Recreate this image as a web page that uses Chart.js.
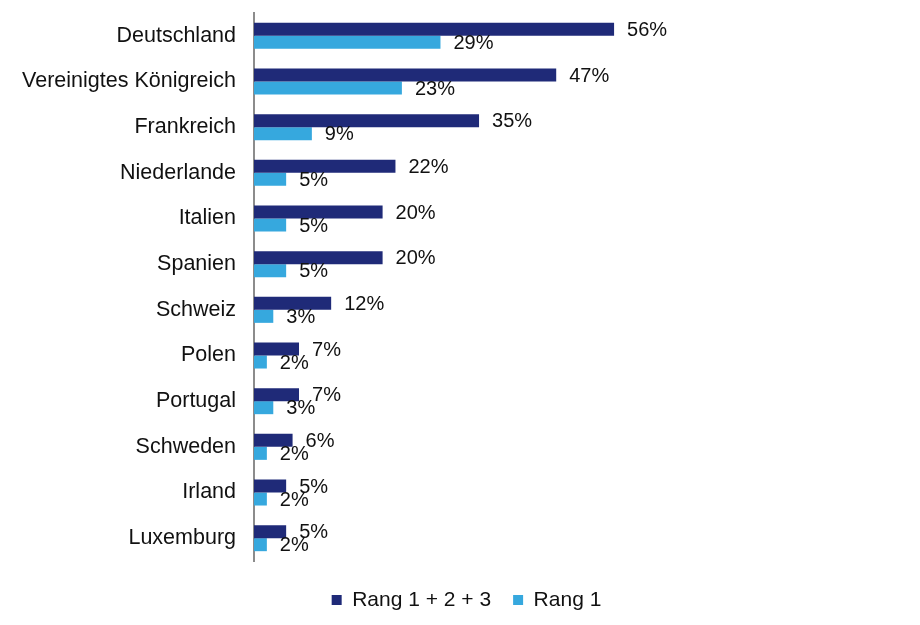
<!DOCTYPE html>
<html>
<head>
<meta charset="utf-8">
<script src="https://cdn.jsdelivr.net/npm/chart.js@4.4.1/dist/chart.umd.min.js"></script>
<style>
html,body{margin:0;padding:0;background:#fff;}
#wrap{position:relative;width:920px;height:625px;}
</style>
</head>
<body>
<div id="wrap"><canvas id="c"></canvas></div>
<script>
const categories = ["Deutschland","Vereinigtes Königreich","Frankreich","Niederlande","Italien","Spanien","Schweiz","Polen","Portugal","Schweden","Irland","Luxemburg"];
const rang123 = [56,47,35,22,20,20,12,7,7,6,5,5];
const rang1 = [29,23,9,5,5,5,3,2,3,2,2,2];
const seriesNames = ["Rang 1 + 2 + 3","Rang 1"];

const FONT = "'Liberation Sans', Arial, sans-serif";

const labelPlugin = {
  id: 'barLabels',
  afterDatasetsDraw(chart) {
    const ctx = chart.ctx;
    ctx.save();
    ctx.font = "20px " + FONT;
    ctx.fillStyle = "#111";
    ctx.textAlign = "left";
    ctx.textBaseline = "middle";
    chart.data.datasets.forEach((ds, di) => {
      const meta = chart.getDatasetMeta(di);
      meta.data.forEach((el, i) => {
        ctx.fillText(ds.data[i] + "%", el.x + 13, el.y + 1);
      });
    });
    ctx.restore();
  }
};

const legendFitPlugin = {
  id: 'legendFit',
  beforeInit(chart) {
    const lg = chart.legend;
    if (!lg) return;
    const origFit = lg.fit;
    lg.fit = function() {
      origFit.call(this);
      this.height = 64;
    };
    const origDraw = lg.draw;
    lg.draw = function() {
      const ctx = this.ctx;
      ctx.save();
      ctx.translate(18, 6.5);
      origDraw.apply(this, arguments);
      ctx.restore();
    };
  }
};

new Chart(document.getElementById('c'), {
  type: 'bar',
  data: {
    labels: categories,
    datasets: [
      {label: seriesNames[0], data: rang123, backgroundColor: '#1f2a78', borderWidth: 0},
      {label: seriesNames[1], data: rang1, backgroundColor: '#36a8de', borderWidth: 0}
    ]
  },
  options: {
    indexAxis: 'y',
    responsive: true,
    maintainAspectRatio: false,
    animation: false,
    layout: {padding: {top: 13, right: 23, bottom: 0, left: 0}},
    datasets: {bar: {categoryPercentage: 0.57, barPercentage: 1.0}},
    scales: {
      x: {display: false, min: 0, max: 100},
      y: {
        grid: {display: false, drawTicks: false},
        border: {display: true, color: '#8c8c8c', width: 2},
        ticks: {color: '#111', font: {family: FONT, size: 21.5}, padding: 18},
        afterFit(scale) {
          scale.width = 254;
          scale.paddingTop = 0;
          scale.paddingBottom = 0;
        }
      }
    },
    plugins: {
      legend: {
        position: 'bottom',
        labels: {
          color: '#111',
          font: {family: FONT, size: 21},
          boxWidth: 10, boxHeight: 10,
          padding: 22
        }
      },
      tooltip: {enabled: false}
    }
  },
  plugins: [labelPlugin, legendFitPlugin]
});
</script>
</body>
</html>
